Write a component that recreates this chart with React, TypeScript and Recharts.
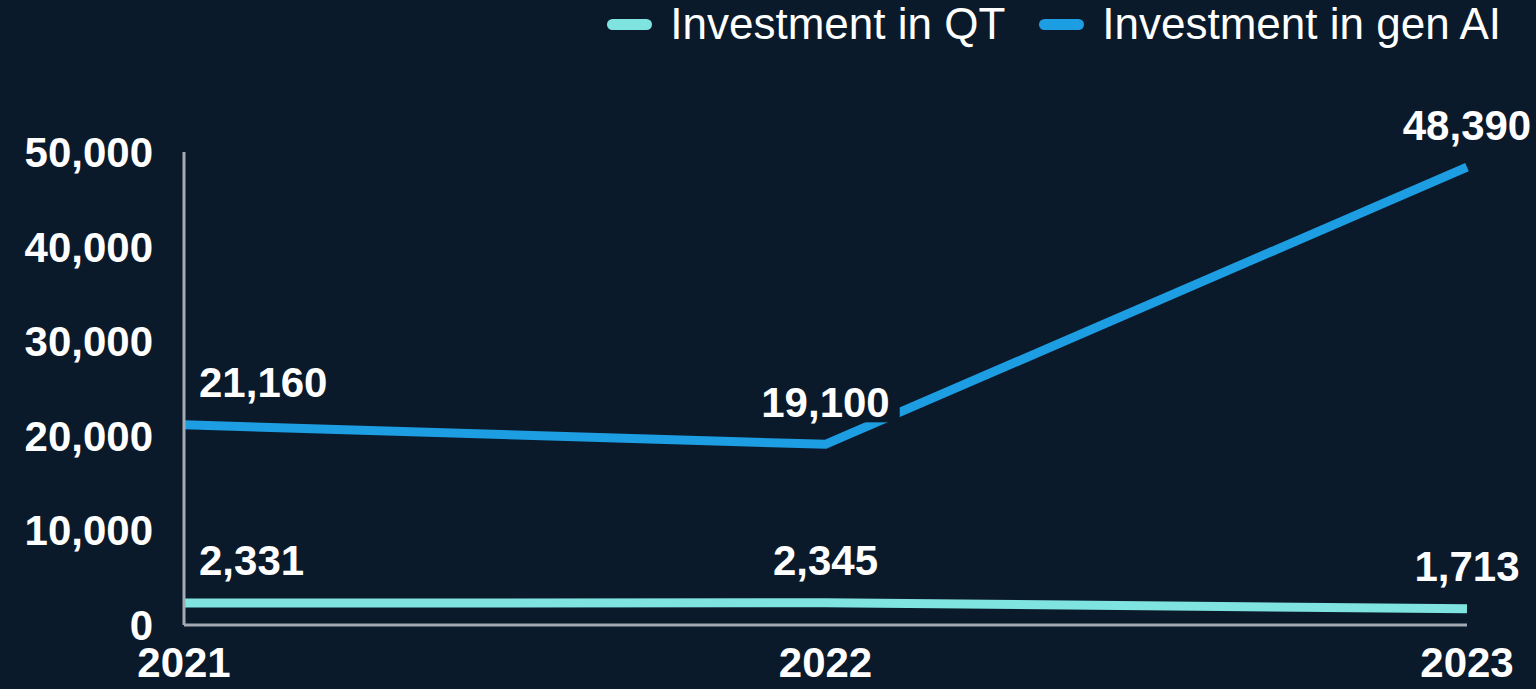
import { LabelList, Line, LineChart, XAxis, YAxis } from 'recharts'

const years = ['2021', '2022', '2023']
const qtInvestment = [2331, 2345, 1713]
const genAiInvestment = [21160, 19100, 48390]
const yTicks = [0, 10000, 20000, 30000, 40000, 50000]

const BG = '#0a1a2b'
const QT_COLOR = '#7fe3e0'
const AI_COLOR = '#1d9de2'
const AXIS_COLOR = '#a3aab3'
const FONT = '"Liberation Sans", Arial, sans-serif'
const FS = 42

const data = years.map((year, i) => ({
  year,
  qt: qtInvestment[i],
  genAi: genAiInvestment[i],
}))

const fmt = (v: number) => v.toLocaleString('en-US')

function ValueLabel(props: any) {
  const { x, y, value, index } = props
  const text = fmt(Number(value))
  const first = index === 0
  const tx = first ? x + 15 : x
  const ty = y - 42
  const w = text.split('').reduce((s: number, c: string) => s + (c === ',' ? 0.278 : 0.556), 0) * FS
  const rx = first ? tx - 4 : tx - w / 2 - 4
  return (
    <g>
      <rect x={rx} y={ty - 20} width={w + 14} height={40} fill={BG} />
      <text
        x={tx}
        y={ty}
        textAnchor={first ? 'start' : 'middle'}
        dominantBaseline="central"
        fill="#ffffff"
        fontSize={FS}
        fontWeight={700}
        fontFamily={FONT}
      >
        {text}
      </text>
    </g>
  )
}

const legendItems = [
  { name: 'Investment in QT', color: QT_COLOR },
  { name: 'Investment in gen AI', color: AI_COLOR },
]

export default function App() {
  return (
    <div
      style={{
        position: 'absolute',
        left: 0,
        top: 0,
        width: 1536,
        height: 689,
        background: BG,
        fontFamily: FONT,
      }}
    >
      <div
        style={{
          position: 'absolute',
          top: 0,
          right: 35,
          height: 48,
          display: 'flex',
          alignItems: 'center',
          gap: 34,
          color: '#ffffff',
          fontSize: 44,
        }}
      >
        {legendItems.map((item) => (
          <div key={item.name} style={{ display: 'flex', alignItems: 'center', gap: 18 }}>
            <span
              style={{
                display: 'inline-block',
                width: 45,
                height: 11,
                borderRadius: 6,
                background: item.color,
              }}
            />
            <span>{item.name}</span>
          </div>
        ))}
      </div>

      <LineChart
        width={1536}
        height={689}
        data={data}
        margin={{ top: 152, right: 69, bottom: 0, left: 0 }}
      >
        <XAxis
          dataKey="year"
          height={64}
          axisLine={{ stroke: AXIS_COLOR, strokeWidth: 3 }}
          tickLine={false}
          tickMargin={16}
          tick={{ fill: '#ffffff', fontSize: FS, fontWeight: 700, fontFamily: FONT }}
        />
        <YAxis
          width={184}
          domain={[0, 50000]}
          ticks={yTicks}
          tickFormatter={fmt}
          axisLine={{ stroke: AXIS_COLOR, strokeWidth: 3 }}
          tickLine={false}
          tickMargin={25}
          tick={{ fill: '#ffffff', fontSize: FS, fontWeight: 700, fontFamily: FONT }}
        />
        <Line
          dataKey="genAi"
          stroke={AI_COLOR}
          strokeWidth={9}
          dot={false}
          isAnimationActive={false}
        >
          <LabelList dataKey="genAi" content={<ValueLabel />} />
        </Line>
        <Line
          dataKey="qt"
          stroke={QT_COLOR}
          strokeWidth={9}
          dot={false}
          isAnimationActive={false}
        >
          <LabelList dataKey="qt" content={<ValueLabel />} />
        </Line>
      </LineChart>
    </div>
  )
}
